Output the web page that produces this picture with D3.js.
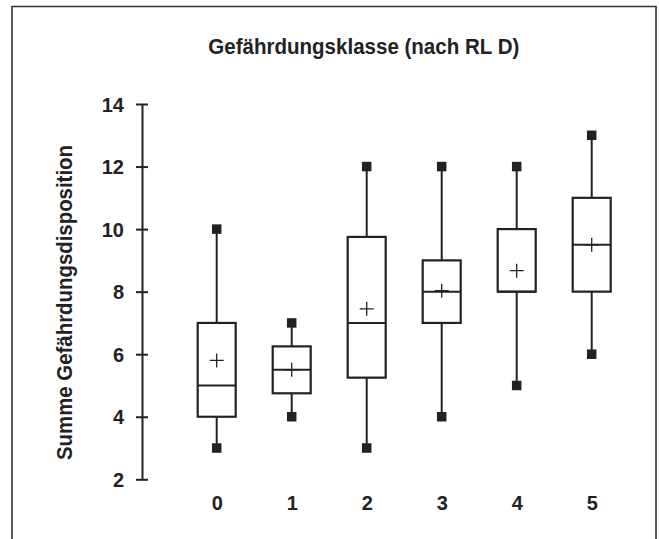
<!DOCTYPE html>
<html>
<head>
<meta charset="utf-8">
<script src="https://cdn.jsdelivr.net/npm/d3@7"></script>
<style>
  html, body { margin: 0; padding: 0; background: #fff; }
  svg { display: block; }
  text { font-family: "Liberation Sans", Arial, sans-serif; font-weight: bold; fill: #222; }
</style>
</head>
<body>
<svg id="chart" width="659" height="539"></svg>
<script>
// ---- data ----
const categories = ["0", "1", "2", "3", "4", "5"];
const minValues    = [3, 4, 3, 4, 5, 6];
const q1Values     = [4, 4.75, 5.25, 7, 8, 8];
const medianValues = [5, 5.5, 7, 8, 8, 9.5];
const q3Values     = [7, 6.25, 9.75, 9, 10, 11];
const maxValues    = [10, 7, 12, 12, 12, 13];
const meanValues   = [5.8, 5.5, 7.45, 8.03, 8.67, 9.5];
const yTicks = [2, 4, 6, 8, 10, 12, 14];
const titleText = "Gefährdungsklasse (nach RL D)";
const yLabelText = "Summe Gefährdungsdisposition";

const svg = d3.select("#chart");
const ink = "#222";

// frame
svg.append("path")
  .attr("d", "M12,560 V6.5 H656 V560")
  .attr("fill", "none").attr("stroke", "#333").attr("stroke-width", 1.6);

const y = d3.scaleLinear().domain([2, 14]).range([479.3, 104]);
const x = d3.scalePoint().domain(categories).range([216.7, 591.7]);

// title
svg.append("text")
  .attr("x", 363.8).attr("y", 54)
  .attr("text-anchor", "middle")
  .attr("font-size", 22)
  .attr("textLength", 311).attr("lengthAdjust", "spacingAndGlyphs")
  .text(titleText);

// y label
svg.append("text")
  .attr("transform", "translate(72,302.5) rotate(-90)")
  .attr("text-anchor", "middle")
  .attr("font-size", 22)
  .attr("textLength", 315).attr("lengthAdjust", "spacingAndGlyphs")
  .text(yLabelText);

// y axis
const yAxis = d3.axisLeft(y).tickValues(yTicks).tickFormat(d3.format("d"))
  .tickSizeInner(6).tickSizeOuter(0).tickPadding(12);
const gAxis = svg.append("g").attr("transform", "translate(142,0)").call(yAxis);
gAxis.select(".domain").attr("stroke", ink).attr("stroke-width", 2);
gAxis.selectAll(".tick line").attr("x1", 6).attr("stroke", ink).attr("stroke-width", 2);
gAxis.selectAll(".tick text")
  .attr("font-size", 20).attr("font-family", "Liberation Sans, Arial, sans-serif")
  .attr("font-weight", "bold").attr("fill", ink).attr("dy", "0.36em");

// x labels
const xAxis = d3.axisBottom(x).tickSize(0).tickPadding(0);
const gX = svg.append("g").attr("transform", "translate(0,496)").call(xAxis);
gX.select(".domain").remove();
gX.selectAll(".tick text")
  .attr("font-size", 20).attr("font-family", "Liberation Sans, Arial, sans-serif")
  .attr("font-weight", "bold").attr("fill", ink).attr("dy", "0.71em");

// boxes
const boxW = 38, sq = 9.5, plus = 14;
const rows = categories.map((c, i) => ({
  c, min: minValues[i], q1: q1Values[i], med: medianValues[i],
  q3: q3Values[i], max: maxValues[i], mean: meanValues[i]
}));
const g = svg.append("g");
const b = g.selectAll("g.box").data(rows).join("g").attr("class", "box");

b.append("line")
  .attr("x1", d => x(d.c)).attr("x2", d => x(d.c))
  .attr("y1", d => y(d.max)).attr("y2", d => y(d.q3))
  .attr("stroke", ink).attr("stroke-width", 2);
b.append("line")
  .attr("x1", d => x(d.c)).attr("x2", d => x(d.c))
  .attr("y1", d => y(d.q1)).attr("y2", d => y(d.min))
  .attr("stroke", ink).attr("stroke-width", 2);
b.append("rect")
  .attr("x", d => x(d.c) - boxW / 2).attr("width", boxW)
  .attr("y", d => y(d.q3)).attr("height", d => y(d.q1) - y(d.q3))
  .attr("fill", "#fff").attr("stroke", ink).attr("stroke-width", 2.2);
b.append("line")
  .attr("x1", d => x(d.c) - boxW / 2).attr("x2", d => x(d.c) + boxW / 2)
  .attr("y1", d => y(d.med)).attr("y2", d => y(d.med))
  .attr("stroke", ink).attr("stroke-width", 2);
// min/max squares
b.append("rect")
  .attr("x", d => x(d.c) - sq / 2).attr("y", d => y(d.max) - sq / 2)
  .attr("width", sq).attr("height", sq).attr("fill", ink);
b.append("rect")
  .attr("x", d => x(d.c) - sq / 2).attr("y", d => y(d.min) - sq / 2)
  .attr("width", sq).attr("height", sq).attr("fill", ink);
// mean plus
b.append("path")
  .attr("d", d => `M${x(d.c) - plus / 2},${y(d.mean)}H${x(d.c) + plus / 2}M${x(d.c)},${y(d.mean) - plus / 2}V${y(d.mean) + plus / 2}`)
  .attr("stroke", ink).attr("stroke-width", 1.3).attr("fill", "none");
</script>
</body>
</html>
